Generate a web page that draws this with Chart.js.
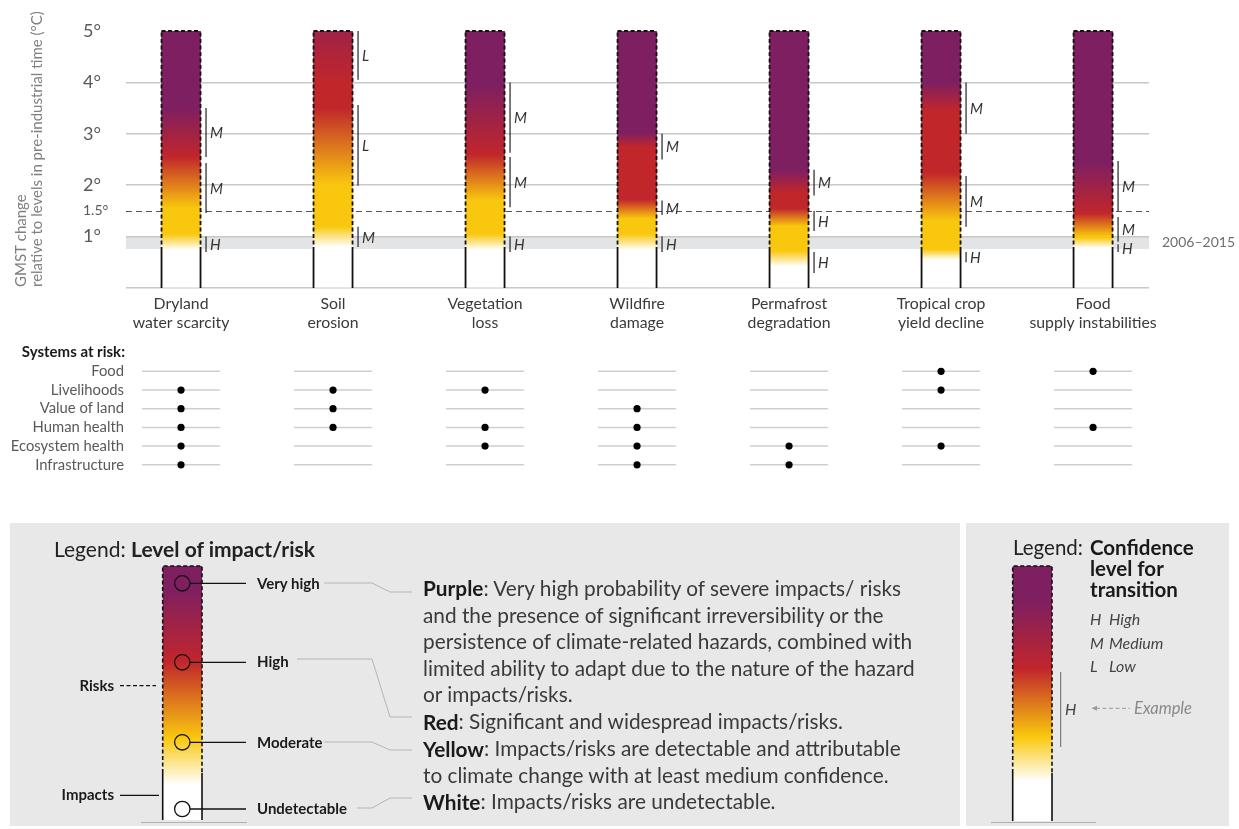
<!DOCTYPE html>
<html>
<head>
<meta charset="utf-8">
<script src="https://cdn.jsdelivr.net/npm/chart.js@4.4.1/dist/chart.umd.min.js"></script>
<style>
  body { margin: 0; background: #fff; width: 1239px; height: 829px; overflow: hidden; position: relative; font-family: Lato, sans-serif; }
  #emberWrap { position: absolute; left: 0; top: 0; }
  #systemsWrap { position: absolute; left: 0; top: 340px; }
  #legend { position: absolute; left: 0; top: 480px; }
</style>
</head>
<body>
<div id="emberWrap"><canvas id="emberChart" width="1239" height="340"></canvas></div>
<div id="systemsWrap"><canvas id="systemsChart" width="1239" height="145"></canvas></div>

<svg id="legend" width="1239" height="349" viewBox="0 480 1239 349" font-family="Lato, sans-serif">
  <defs>
    <linearGradient id="riskGrad" x1="0" y1="566" x2="0" y2="820" gradientUnits="userSpaceOnUse">
      <stop offset="0" stop-color="#7e1f61"/>
      <stop offset="0.09" stop-color="#7e1f61"/>
      <stop offset="0.378" stop-color="#c1262b"/>
      <stop offset="0.677" stop-color="#f9c80e"/>
      <stop offset="0.862" stop-color="#ffffff"/>
      <stop offset="1" stop-color="#ffffff"/>
    </linearGradient>
    <linearGradient id="confGrad" x1="0" y1="566" x2="0" y2="821" gradientUnits="userSpaceOnUse">
      <stop offset="0" stop-color="#7e1f61"/>
      <stop offset="0.133" stop-color="#7e1f61"/>
      <stop offset="0.404" stop-color="#c1262b"/>
      <stop offset="0.67" stop-color="#f9c80e"/>
      <stop offset="0.845" stop-color="#ffffff"/>
      <stop offset="1" stop-color="#ffffff"/>
    </linearGradient>
  </defs>

  <!-- panels -->
  <rect x="10" y="523" width="950" height="303" fill="#e8e8e8"/>
  <rect x="966" y="523" width="263" height="303" fill="#e8e8e8"/>

  <!-- left legend: level of impact/risk -->
  <text x="54" y="548" font-size="21" fill="#222" dominant-baseline="central">Legend: <tspan font-weight="bold">Level of impact/risk</tspan></text>
  <line x1="141" y1="822.5" x2="247" y2="822.5" stroke="#b0b0b0" stroke-width="1.2"/>
  <rect x="162.7" y="566" width="39.3" height="254" fill="url(#riskGrad)"/>
  <g stroke="#111" stroke-width="1.6" fill="none">
    <path d="M162.7 773 V566 H202 V773" stroke-dasharray="4 2.5"/>
    <path d="M162.7 773 V820 M202 773 V820"/>
  </g>
  <g stroke="#111" stroke-width="1.3">
    <circle cx="182.3" cy="583.3" r="7.7" fill="none"/>
    <circle cx="182.3" cy="662.3" r="7.7" fill="none"/>
    <circle cx="182.3" cy="742.3" r="7.7" fill="none"/>
    <circle cx="182.3" cy="809" r="7.7" fill="#fff"/>
    <line x1="190" y1="583.3" x2="246" y2="583.3"/>
    <line x1="190" y1="662.3" x2="246" y2="662.3"/>
    <line x1="190" y1="742.3" x2="246" y2="742.3"/>
    <line x1="190" y1="809" x2="246" y2="809"/>
  </g>
  <g font-size="15" font-weight="bold" fill="#1a1a1a" dominant-baseline="central">
    <text x="257" y="583">Very high</text>
    <text x="257" y="661">High</text>
    <text x="257" y="742">Moderate</text>
    <text x="257" y="808">Undetectable</text>
    <text x="114" y="685" text-anchor="end">Risks</text>
    <text x="114" y="794" text-anchor="end">Impacts</text>
  </g>
  <line x1="120" y1="685.7" x2="156" y2="685.7" stroke="#111" stroke-width="1.3" stroke-dasharray="4 2.5"/>
  <line x1="120" y1="795.3" x2="159" y2="795.3" stroke="#111" stroke-width="1.3"/>
  <g stroke="#b5b5b5" stroke-width="1" fill="none">
    <polyline points="324,583 372,583 390,592 412,592"/>
    <polyline points="297,659 372,659 390,717 412,717"/>
    <polyline points="324,742 372,742 390,750 412,750"/>
    <polyline points="357,808 372,808 390,798 412,798"/>
  </g>
  <g font-size="20.8" fill="#3a3a3a" dominant-baseline="central">
    <text x="423" y="587"><tspan font-weight="bold" fill="#1a1a1a">Purple</tspan>: Very high probability of severe impacts/ risks</text>
    <text x="423" y="614">and the presence of significant irreversibility or the</text>
    <text x="423" y="640.7">persistence of climate-related hazards, combined with</text>
    <text x="423" y="667">limited ability to adapt due to the nature of the hazard</text>
    <text x="423" y="693.5">or impacts/risks.</text>
    <text x="423" y="720.5"><tspan font-weight="bold" fill="#1a1a1a">Red</tspan>: Significant and widespread impacts/risks.</text>
    <text x="423" y="747.5"><tspan font-weight="bold" fill="#1a1a1a">Yellow</tspan>: Impacts/risks are detectable and attributable</text>
    <text x="423" y="774.3">to climate change with at least medium confidence.</text>
    <text x="423" y="800.7"><tspan font-weight="bold" fill="#1a1a1a">White</tspan>: Impacts/risks are undetectable.</text>
  </g>

  <!-- right legend: confidence level -->
  <text x="1013" y="547" font-size="20.5" fill="#222" dominant-baseline="central">Legend:</text>
  <g font-size="20.5" font-weight="bold" fill="#1a1a1a" dominant-baseline="central">
    <text x="1090" y="547">Confidence</text>
    <text x="1090" y="568">level for</text>
    <text x="1090" y="589">transition</text>
  </g>
  <line x1="991" y1="822.5" x2="1096" y2="822.5" stroke="#b0b0b0" stroke-width="1.2"/>
  <rect x="1012.7" y="566" width="39.3" height="255" fill="url(#confGrad)"/>
  <g stroke="#111" stroke-width="1.6" fill="none">
    <path d="M1012.7 773 V566 H1052 V773" stroke-dasharray="4 2.5"/>
    <path d="M1012.7 773 V821 M1052 773 V821"/>
  </g>
  <g font-size="16" font-style="italic" fill="#444" dominant-baseline="central">
    <text x="1090" y="618">H</text><text x="1109" y="618">High</text>
    <text x="1090" y="642">M</text><text x="1109" y="642">Medium</text>
    <text x="1090" y="665">L</text><text x="1109" y="665">Low</text>
    <text x="1065" y="708">H</text>
  </g>
  <line x1="1060.7" y1="672" x2="1060.7" y2="747" stroke="#666" stroke-width="1"/>
  <line x1="1096" y1="708.3" x2="1130" y2="708.3" stroke="#999" stroke-width="1" stroke-dasharray="4 2.5"/>
  <path d="M1091.5 708.3 L1097 705.8 L1097 710.8 Z" fill="#999"/>
  <text x="1134" y="708" font-size="16.5" font-style="italic" fill="#8a8a8a" dominant-baseline="central">Example</text>
</svg>

<script>
// ---------- data ----------
const categories = [
  ['Dryland', 'water scarcity'],
  ['Soil', 'erosion'],
  ['Vegetation', 'loss'],
  ['Wildfire', 'damage'],
  ['Permafrost', 'degradation'],
  ['Tropical crop', 'yield decline'],
  ['Food', 'supply instabilities']
];
const emberBase = [0, 0, 0, 0, 0, 0, 0];
const emberTop = [5, 5, 5, 5, 5, 5, 5];
const riskStart = 0.72; // where the dashed (risk) outline starts

// colour transitions in °C: [start, end]
const whiteToYellow = [[0.74, 1.05], [0.8, 1.2], [0.74, 1.05], [0.74, 1.05], [0.42, 0.72], [0.55, 0.75], [0.78, 0.98]];
const yellowToRed = [[1.55, 2.55], [2.0, 3.5], [1.7, 2.6], [1.35, 1.72], [1.2, 1.55], [1.3, 2.25], [1.0, 1.45]];
const redToPurple = [[2.55, 3.5], [4.0, 6.0], [2.6, 3.95], [2.75, 3.02], [1.85, 2.3], [3.45, 4.0], [1.45, 2.45]];

// confidence brackets: [from, to, level]
const confWhiteYellow = [[0.7, 1.0, 'H'], [0.8, 1.19, 'M'], [0.7, 1.0, 'H'], [0.7, 1.0, 'H'], [0.29, 0.7, 'H'], [0.5, 0.7, 'H'], [0.7, 0.85, 'H']];
const confYellowRed = [[1.46, 2.43, 'M'], [1.99, 3.56, 'L'], [1.57, 2.55, 'M'], [1.42, 1.7, 'M'], [1.11, 1.5, 'H'], [1.19, 2.18, 'M'], [0.9, 1.38, 'M']];
const confRedPurple = [[2.55, 3.5, 'M'], [4.05, 5.0, 'L'], [2.63, 4.0, 'M'], [2.5, 3.0, 'M'], [1.8, 2.3, 'M'], [3.0, 4.0, 'M'], [1.5, 2.47, 'M']];

const yTicks = [0, 1, 1.5, 2, 3, 4, 5];
const recentBand = [0.76, 1.0]; // 2006–2015
const recentLabel = '2006–2015';

const systems = ['Food', 'Livelihoods', 'Value of land', 'Human health', 'Ecosystem health', 'Infrastructure'];
const atRiskFood = [0, 0, 0, 0, 0, 1, 1];
const atRiskLivelihoods = [1, 1, 1, 0, 0, 1, 0];
const atRiskValueOfLand = [1, 1, 0, 1, 0, 0, 0];
const atRiskHumanHealth = [1, 1, 1, 1, 0, 0, 1];
const atRiskEcosystemHealth = [1, 0, 1, 1, 1, 1, 0];
const atRiskInfrastructure = [1, 0, 0, 1, 1, 0, 0];

// ---------- style ----------
const FONT = 'Lato, sans-serif';
const WHITE = '#ffffff', YELLOW = '#f9c80e', RED = '#c1262b', PURPLE = '#7e1f61';
const X_MIN = -0.362, X_MAX = 6.368;

function emberGradient(chart, i) {
  const y = chart.scales.y;
  const g = chart.ctx.createLinearGradient(0, y.getPixelForValue(0), 0, y.getPixelForValue(6));
  const f = v => Math.min(1, Math.max(0, v / 6));
  g.addColorStop(0, WHITE);
  g.addColorStop(f(whiteToYellow[i][0]), WHITE);
  g.addColorStop(f(whiteToYellow[i][1]), YELLOW);
  g.addColorStop(f(yellowToRed[i][0]), YELLOW);
  g.addColorStop(f(yellowToRed[i][1]), RED);
  g.addColorStop(f(redToPurple[i][0]), RED);
  g.addColorStop(f(redToPurple[i][1]), PURPLE);
  g.addColorStop(1, PURPLE);
  return g;
}

const emberDecor = {
  id: 'emberDecor',
  beforeDraw(chart) {
    const {ctx, chartArea: a, scales: {y}} = chart;
    const t = y.getPixelForValue(recentBand[1]);
    const b = y.getPixelForValue(recentBand[0]);
    ctx.save();
    ctx.fillStyle = '#e3e4e5';
    ctx.fillRect(a.left, t, a.right - a.left, b - t);
    ctx.restore();
  },
  beforeDatasetsDraw(chart) {
    const {ctx, chartArea: a, scales: {y}} = chart;
    const py = Math.round(y.getPixelForValue(1.5)) + 0.5;
    ctx.save();
    ctx.strokeStyle = '#555';
    ctx.lineWidth = 1;
    ctx.setLineDash([6, 4]);
    ctx.beginPath();
    ctx.moveTo(a.left, py);
    ctx.lineTo(a.right, py);
    ctx.stroke();
    ctx.restore();
  },
  afterDatasetsDraw(chart) {
    const {ctx, scales: {y}} = chart;
    const meta = chart.getDatasetMeta(0);
    ctx.save();
    meta.data.forEach((bar, i) => {
      const half = bar.width / 2;
      const xs = [bar.x - half, bar.x + half];
      const yBase = y.getPixelForValue(emberBase[i]);
      const yRisk = y.getPixelForValue(riskStart);
      const yTop = y.getPixelForValue(emberTop[i]);
      ctx.strokeStyle = '#111';
      ctx.lineWidth = 1.8;
      ctx.setLineDash([]);
      ctx.beginPath();
      xs.forEach(x => { ctx.moveTo(x, yBase); ctx.lineTo(x, yRisk); });
      ctx.stroke();
      ctx.setLineDash([4, 2.5]);
      ctx.beginPath();
      xs.forEach(x => { ctx.moveTo(x, yRisk); ctx.lineTo(x, yTop); });
      ctx.moveTo(xs[0], yTop);
      ctx.lineTo(xs[1], yTop);
      ctx.stroke();

      // confidence brackets
      const cx = xs[1] + 5.5;
      ctx.setLineDash([]);
      ctx.lineWidth = 1.2;
      ctx.strokeStyle = '#222';
      ctx.fillStyle = '#333';
      ctx.font = 'italic 15px ' + FONT;
      ctx.textAlign = 'left';
      ctx.textBaseline = 'middle';
      [confWhiteYellow[i], confYellowRed[i], confRedPurple[i]].forEach(([lo, hi, lvl]) => {
        const p0 = y.getPixelForValue(lo), p1 = y.getPixelForValue(hi);
        ctx.beginPath();
        ctx.moveTo(cx, p0);
        ctx.lineTo(cx, p1);
        ctx.stroke();
        ctx.fillText(lvl, cx + 4, (p0 + p1) / 2 + 1);
      });
    });
    ctx.restore();
  },
  afterDraw(chart) {
    const {ctx, chartArea: a, scales: {y}} = chart;
    ctx.save();
    // y axis title
    ctx.fillStyle = '#808080';
    ctx.font = '15px ' + FONT;
    ctx.textAlign = 'left';
    ctx.textBaseline = 'middle';
    [['GMST change', 21], ['relative to levels in pre-industrial time (°C)', 37]].forEach(([t, x]) => {
      ctx.save();
      ctx.translate(x, a.bottom - 1);
      ctx.rotate(-Math.PI / 2);
      ctx.fillText(t, 0, 0);
      ctx.restore();
    });
    // band label
    ctx.fillStyle = '#6d6e71';
    ctx.font = '14px ' + FONT;
    ctx.fillText(recentLabel, a.right + 13, (y.getPixelForValue(recentBand[0]) + y.getPixelForValue(recentBand[1])) / 2);
    ctx.restore();
  }
};

new Chart(document.getElementById('emberChart'), {
  type: 'bar',
  data: {
    datasets: [{
      data: categories.map((c, i) => ({x: i, y: [emberBase[i], emberTop[i]]})),
      backgroundColor: ctx => ctx.chart.chartArea ? emberGradient(ctx.chart, ctx.dataIndex) : YELLOW,
      borderWidth: 0,
      barThickness: 39
    }]
  },
  options: {
    responsive: false,
    animation: false,
    layout: {padding: {left: 83, right: 90, top: 31, bottom: 0}},
    plugins: {legend: {display: false}, tooltip: {enabled: false}},
    scales: {
      x: {
        type: 'linear', min: X_MIN, max: X_MAX, offset: false,
        afterBuildTicks: s => { s.ticks = categories.map((c, i) => ({value: i})); },
        afterFit: s => { s.height = 52; },
        grid: {display: false, drawTicks: false},
        border: {display: false},
        ticks: {
          autoSkip: false, maxRotation: 0, padding: 7,
          callback: v => categories[v],
          color: '#3a3a3a',
          font: {family: FONT, size: 15.8, lineHeight: 1.18}
        }
      },
      y: {
        min: 0, max: 5,
        afterBuildTicks: s => { s.ticks = yTicks.map(v => ({value: v})); },
        afterFit: s => { s.width = 43; },
        grid: {
          drawTicks: false,
          lineWidth: 1.5,
          color: c => (c.tick && (c.tick.value === 5 || c.tick.value === 1.5)) ? 'rgba(0,0,0,0)' : '#c8c8c8'
        },
        border: {display: false},
        ticks: {
          crossAlign: 'far', padding: 0,
          callback: v => v === 0 ? '' : v + '°',
          color: '#58595b',
          font: c => ({family: FONT, size: (c.tick && c.tick.value === 1.5) ? 14 : 18})
        }
      }
    }
  },
  plugins: [emberDecor]
});

// ---------- systems at risk ----------
const riskRows = [atRiskFood, atRiskLivelihoods, atRiskValueOfLand, atRiskHumanHealth, atRiskEcosystemHealth, atRiskInfrastructure];
const riskPoints = [];
riskRows.forEach((row, r) => row.forEach((v, c) => { if (v) riskPoints.push({x: c, y: r}); }));

const systemsDecor = {
  id: 'systemsDecor',
  beforeDatasetsDraw(chart) {
    const {ctx, scales: {x, y}} = chart;
    ctx.save();
    ctx.strokeStyle = '#cfcfcf';
    ctx.lineWidth = 1.5;
    ctx.beginPath();
    systems.forEach((s, r) => {
      const py = y.getPixelForValue(r);
      categories.forEach((c, i) => {
        const px = x.getPixelForValue(i);
        ctx.moveTo(px - 39, py);
        ctx.lineTo(px + 39, py);
      });
    });
    ctx.stroke();
    ctx.restore();
  },
  afterDraw(chart) {
    const {ctx, chartArea: a} = chart;
    ctx.save();
    ctx.fillStyle = '#1a1a1a';
    ctx.font = 'bold 15px ' + FONT;
    ctx.textAlign = 'right';
    ctx.textBaseline = 'middle';
    ctx.fillText('Systems at risk:', a.left - 1, 12);
    ctx.restore();
  }
};

new Chart(document.getElementById('systemsChart'), {
  type: 'scatter',
  data: {
    datasets: [{
      data: riskPoints,
      pointRadius: 3.6,
      pointBackgroundColor: '#000',
      pointBorderWidth: 0
    }]
  },
  options: {
    responsive: false,
    animation: false,
    layout: {padding: {left: 0, right: 90, top: 22, bottom: 6.6}},
    plugins: {legend: {display: false}, tooltip: {enabled: false}},
    scales: {
      x: {type: 'linear', display: false, min: X_MIN, max: X_MAX},
      y: {
        type: 'linear', reverse: true, min: -0.5, max: 5.5,
        afterBuildTicks: s => { s.ticks = systems.map((t, i) => ({value: i})); },
        afterFit: s => { s.width = 126; },
        grid: {display: false, drawTicks: false},
        border: {display: false},
        ticks: {
          padding: 2,
          callback: v => systems[v],
          color: '#58595b',
          font: {family: FONT, size: 14.8}
        }
      }
    }
  },
  plugins: [systemsDecor]
});
</script>
</body>
</html>
